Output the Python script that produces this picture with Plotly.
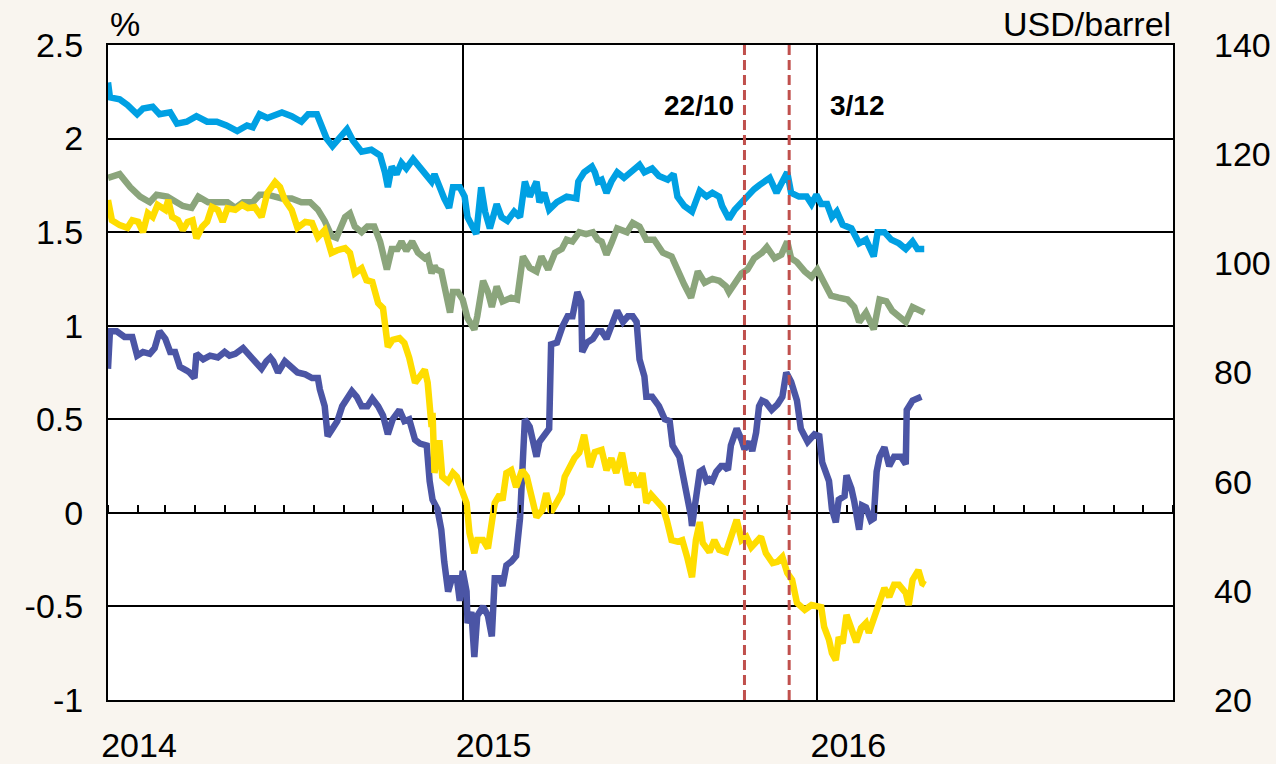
import pandas as pd
import plotly.graph_objects as go

# ---------------- data (days since 2014-01-01, values) ----------------
blue_days = [0, 2, 12, 20, 30, 36, 46, 53, 64, 71, 81, 91, 102, 112, 122, 133, 143, 149, 156, 164,
             179, 189, 199, 206, 215, 218, 225, 231, 239, 246, 252, 261, 271, 280, 285, 288, 292, 297,
             302, 307, 314, 321, 326, 333, 336, 341, 346, 351, 355, 362, 367, 370, 379, 384, 388, 393,
             400, 405, 411, 418, 424, 429, 434, 441, 444, 449, 454, 462, 472, 482, 484, 490, 498, 501,
             504, 508, 513, 518, 524, 531, 539, 547, 552, 560, 567, 576, 582, 586, 593, 601, 609, 616,
             622, 629, 632, 639, 645, 652, 658, 665, 670, 681, 688, 693, 699, 703, 711, 719, 724, 729,
             734, 740, 745, 750, 756, 765, 773, 780, 785, 788, 792, 799, 806, 814, 821, 828, 833, 840]
blue_vals = [2.30, 2.22, 2.21, 2.18, 2.13, 2.16, 2.17, 2.13, 2.14, 2.08, 2.09, 2.12, 2.09, 2.09, 2.07,
             2.04, 2.07, 2.06, 2.13, 2.11, 2.14, 2.12, 2.09, 2.13, 2.13, 2.09, 2.00, 1.96, 2.01, 2.05,
             1.99, 1.93, 1.94, 1.91, 1.82, 1.74, 1.85, 1.81, 1.87, 1.84, 1.89, 1.85, 1.81, 1.77, 1.81,
             1.74, 1.68, 1.63, 1.74, 1.74, 1.69, 1.58, 1.49, 1.74, 1.61, 1.52, 1.65, 1.58, 1.56, 1.61,
             1.58, 1.77, 1.69, 1.77, 1.66, 1.71, 1.62, 1.66, 1.69, 1.68, 1.77, 1.82, 1.85, 1.82, 1.77,
             1.78, 1.71, 1.77, 1.82, 1.79, 1.82, 1.86, 1.82, 1.84, 1.80, 1.78, 1.81, 1.69, 1.64, 1.61,
             1.72, 1.69, 1.71, 1.69, 1.64, 1.57, 1.62, 1.66, 1.70, 1.73, 1.75, 1.79, 1.71, 1.76, 1.82,
             1.71, 1.69, 1.69, 1.65, 1.70, 1.65, 1.65, 1.58, 1.61, 1.54, 1.52, 1.44, 1.46, 1.39, 1.37,
             1.50, 1.50, 1.46, 1.44, 1.41, 1.45, 1.41, 1.41]

green_days = [0, 12, 23, 33, 43, 50, 61, 69, 77, 86, 93, 103, 113, 123, 131, 139, 149, 156, 164, 174,
              179, 189, 199, 208, 216, 223, 230, 235, 244, 249, 254, 261, 267, 274, 280, 287, 292, 298,
              302, 307, 313, 319, 326, 329, 333, 336, 338, 343, 348, 352, 355, 360, 365, 370, 377, 380,
              386, 391, 395, 400, 406, 415, 421, 427, 434, 441, 446, 453, 460, 467, 472, 478, 485, 492,
              499, 504, 508, 513, 518, 524, 534, 540, 547, 554, 562, 571, 580, 586, 593, 600, 607, 614,
              622, 629, 636, 639, 645, 652, 658, 665, 673, 678, 686, 693, 699, 703, 709, 717, 724, 730,
              737, 744, 752, 761, 768, 773, 780, 785, 788, 794, 801, 807, 814, 821, 828, 835, 840]
green_vals = [1.79, 1.81, 1.74, 1.69, 1.66, 1.70, 1.69, 1.66, 1.64, 1.63, 1.69, 1.66, 1.66, 1.66, 1.63,
              1.66, 1.66, 1.70, 1.70, 1.69, 1.68, 1.68, 1.66, 1.66, 1.62, 1.56, 1.48, 1.47, 1.58, 1.60,
              1.53, 1.50, 1.53, 1.53, 1.45, 1.30, 1.41, 1.41, 1.45, 1.40, 1.45, 1.39, 1.36, 1.37, 1.28,
              1.32, 1.30, 1.29, 1.16, 1.07, 1.18, 1.18, 1.14, 1.04, 0.98, 1.05, 1.24, 1.18, 1.10, 1.21,
              1.13, 1.15, 1.14, 1.37, 1.31, 1.29, 1.37, 1.30, 1.39, 1.41, 1.46, 1.45, 1.50, 1.49, 1.50,
              1.46, 1.45, 1.38, 1.44, 1.52, 1.50, 1.55, 1.53, 1.46, 1.46, 1.39, 1.37, 1.29, 1.22, 1.15,
              1.29, 1.23, 1.25, 1.24, 1.21, 1.18, 1.23, 1.28, 1.30, 1.36, 1.39, 1.42, 1.36, 1.38, 1.45,
              1.36, 1.34, 1.29, 1.26, 1.30, 1.23, 1.16, 1.15, 1.14, 1.10, 1.02, 1.07, 1.02, 0.98, 1.14,
              1.13, 1.08, 1.05, 1.02, 1.10, 1.08, 1.07]

oil_days = [0, 4, 12, 20, 25, 31, 36, 41, 46, 51, 59, 62, 66, 72, 77, 82, 87, 91, 97, 102, 107, 113,
            118, 123, 131, 138, 144, 151, 158, 161, 164, 172, 177, 182, 189, 195, 203, 210, 216, 223,
            230, 236, 244, 249, 254, 261, 266, 272, 278, 283, 288, 293, 300, 305, 310, 316, 321, 326,
            329, 333, 334, 336, 341, 344, 350, 355, 359, 364, 369, 372, 377, 380, 386, 391, 395, 398,
            403, 406, 410, 415, 420, 426, 431, 436, 441, 447, 451, 456, 462, 467, 470, 475, 480, 485,
            490, 496, 501, 508, 513, 518, 523, 529, 535, 540, 545, 550, 554, 559, 565, 571, 575, 580,
            586, 591, 596, 601, 605, 609, 612, 619, 624, 629, 636, 641, 647, 652, 657, 662, 667, 672,
            677, 684, 689, 694, 699, 704, 709, 717, 724, 730, 734, 737, 742, 745, 749, 752, 756, 760,
            765, 770, 775, 780, 783, 788, 794, 799, 804, 809, 814, 821, 824, 828, 834, 838, 841]
oil_vals = [111.6, 107.9, 107.0, 106.5, 107.9, 107.6, 105.7, 109.2, 108.5, 110.7, 109.8, 111.6, 108.5,
            107.9, 106.1, 107.6, 107.9, 104.6, 106.7, 107.6, 110.3, 109.8, 107.6, 110.1, 109.8, 110.7,
            110.1, 110.3, 108.5, 110.3, 112.9, 114.9, 114.0, 111.6, 109.8, 106.5, 107.6, 107.4, 104.8,
            106.1, 101.9, 102.4, 102.8, 101.9, 98.2, 99.1, 96.9, 96.6, 92.7, 91.8, 84.7, 86.0, 86.3,
            85.4, 82.7, 78.1, 79.2, 80.5, 78.1, 70.0, 72.6, 61.6, 67.6, 60.9, 60.0, 61.6, 60.9, 58.5,
            56.1, 50.6, 46.9, 49.3, 49.3, 47.8, 51.7, 56.1, 57.6, 56.6, 61.6, 62.1, 59.0, 62.1, 60.9,
            57.2, 53.5, 54.8, 57.9, 54.4, 56.6, 57.9, 60.9, 62.7, 64.3, 65.3, 68.6, 62.7, 65.4, 65.8,
            62.1, 64.3, 61.6, 65.3, 59.4, 61.6, 59.0, 61.6, 56.1, 57.6, 56.6, 55.2, 53.0, 49.3, 49.0,
            49.3, 46.2, 42.5, 49.3, 52.6, 48.8, 47.1, 49.3, 47.5, 47.1, 49.9, 53.0, 49.3, 49.9, 48.0,
            49.0, 49.9, 46.9, 45.1, 45.3, 46.2, 43.3, 42.0, 37.8, 36.5, 37.4, 37.0, 37.0, 33.4, 31.0,
            28.6, 27.3, 31.5, 30.4, 35.6, 33.4, 30.6, 33.2, 34.1, 32.3, 34.7, 37.8, 40.5, 38.9, 41.1,
            41.1, 39.6, 37.4, 42.0, 43.8, 41.4, 41.1]

navy_days = [0, 2, 9, 17, 25, 30, 36, 43, 48, 53, 59, 64, 69, 74, 81, 84, 89, 91, 98, 105, 113, 120,
             125, 131, 139, 146, 153, 158, 163, 167, 170, 175, 182, 189, 195, 203, 210, 216, 218, 223,
             226, 231, 236, 241, 246, 251, 256, 261, 267, 272, 278, 283, 288, 293, 300, 305, 310, 316,
             321, 328, 331, 334, 339, 343, 346, 350, 354, 359, 362, 365, 369, 370, 374, 377, 380, 386,
             391, 395, 398, 403, 406, 410, 415, 420, 424, 426, 429, 434, 437, 441, 444, 449, 454, 456,
             462, 468, 473, 478, 483, 487, 488, 493, 499, 504, 508, 513, 518, 524, 530, 535, 540, 544,
             547, 552, 554, 560, 567, 573, 578, 581, 588, 591, 596, 600, 601, 605, 609, 612, 616, 619,
             622, 626, 631, 634, 638, 641, 647, 652, 655, 660, 663, 667, 670, 673, 677, 683, 689, 694,
             698, 703, 709, 713, 720, 727, 732, 735, 742, 745, 749, 752, 758, 760, 765, 768, 773, 776,
             780, 785, 788, 791, 794, 799, 804, 809, 816, 821, 822, 828, 833, 837]
navy_vals = [0.77, 0.97, 0.97, 0.94, 0.94, 0.84, 0.86, 0.85, 0.88, 0.97, 0.93, 0.86, 0.86, 0.78, 0.76,
             0.75, 0.72, 0.85, 0.82, 0.84, 0.83, 0.86, 0.84, 0.85, 0.88, 0.84, 0.81, 0.77, 0.81, 0.83,
             0.81, 0.75, 0.81, 0.78, 0.75, 0.74, 0.72, 0.72, 0.66, 0.57, 0.41, 0.45, 0.49, 0.57, 0.61,
             0.65, 0.62, 0.57, 0.57, 0.61, 0.57, 0.52, 0.42, 0.50, 0.55, 0.49, 0.50, 0.39, 0.37, 0.36,
             0.17, 0.07, 0.02, -0.09, -0.26, -0.42, -0.35, -0.35, -0.47, -0.31, -0.42, -0.59, -0.53,
             -0.77, -0.55, -0.50, -0.55, -0.66, -0.35, -0.35, -0.39, -0.28, -0.26, -0.23, -0.03, 0.22,
             0.50, 0.46, 0.39, 0.30, 0.38, 0.41, 0.45, 0.90, 0.91, 1.00, 1.05, 1.05, 1.18, 1.13, 0.86,
             0.91, 0.93, 0.97, 0.97, 0.93, 1.00, 1.08, 1.02, 1.05, 1.05, 1.02, 0.82, 0.73, 0.62, 0.62,
             0.57, 0.50, 0.49, 0.36, 0.30, 0.22, 0.13, -0.02, -0.07, 0.09, 0.22, 0.23, 0.17, 0.18, 0.17,
             0.22, 0.25, 0.25, 0.23, 0.36, 0.45, 0.39, 0.34, 0.38, 0.33, 0.43, 0.57, 0.60, 0.59, 0.55,
             0.58, 0.62, 0.75, 0.70, 0.60, 0.45, 0.38, 0.42, 0.41, 0.27, 0.17, 0.02, -0.05, 0.07, 0.09,
             0.20, 0.13, 0.06, -0.09, 0.04, 0.03, -0.04, -0.03, 0.22, 0.30, 0.35, 0.25, 0.30, 0.30,
             0.26, 0.55, 0.60, 0.61, 0.62]

year_ticks = ["2014-01-01", "2015-01-01", "2016-01-01", "2017-01-01"]
year_labels = ["2014", "2015", "2016", ""]
event_dates = ["2015-10-18", "2015-12-03"]
event_labels = ["22/10", "3/12"]
left_ticks = [-1, -0.5, 0, 0.5, 1, 1.5, 2, 2.5]
left_labels = ["-1", "-0.5", "0", "0.5", "1", "1.5", "2", "2.5"]
right_ticks = [20, 40, 60, 80, 100, 120, 140]

BASE = pd.Timestamp("2014-01-01")


def to_dates(days):
    return [BASE + pd.Timedelta(days=d) for d in days]


FONT = "Liberation Sans, Arial, sans-serif"
BG = "#f9f5ef"

fig = go.Figure()
lw = 6.5
fig.add_trace(go.Scatter(x=to_dates(blue_days), y=blue_vals, mode="lines",
                         line=dict(color="#00a0e3", width=lw), showlegend=False))
fig.add_trace(go.Scatter(x=to_dates(green_days), y=green_vals, mode="lines",
                         line=dict(color="#8ba57c", width=lw), showlegend=False))
fig.add_trace(go.Scatter(x=to_dates(navy_days), y=navy_vals, mode="lines",
                         line=dict(color="#4b55a5", width=lw), showlegend=False))
fig.add_trace(go.Scatter(x=to_dates(oil_days), y=oil_vals, mode="lines", yaxis="y2",
                         line=dict(color="#ffdd00", width=lw), showlegend=False))
# invisible helper trace so the zero-line tick axis is drawn
fig.add_trace(go.Scatter(x=to_dates(blue_days), y=blue_vals, mode="lines", xaxis="x2",
                         line=dict(width=0), opacity=0, hoverinfo="skip", showlegend=False))

x_range = [year_ticks[0], year_ticks[-1]]

for d in event_dates:
    fig.add_shape(type="line", xref="x", yref="paper", x0=d, x1=d, y0=0, y1=1,
                  line=dict(color="#c0504d", width=3, dash="10px,5px"), layer="above")

fig.add_annotation(x=event_dates[0], y=0.935, xref="x", yref="paper", text="<b>" + event_labels[0] + "</b>",
                   showarrow=False, xanchor="right", xshift=-8,
                   font=dict(family=FONT, size=28, color="black"))
fig.add_annotation(x=event_dates[1], y=0.935, xref="x", yref="paper", text="<b>" + event_labels[1] + "</b>",
                   showarrow=False, xanchor="left", xshift=39,
                   font=dict(family=FONT, size=28, color="black"))
fig.add_annotation(x=0, y=1.0, xref="paper", yref="paper", text="%", showarrow=False,
                   xanchor="left", yanchor="bottom", yshift=0,
                   font=dict(family=FONT, size=34, color="black"))
fig.add_annotation(x=1, y=1.0, xref="paper", yref="paper", text="USD/barrel", showarrow=False,
                   xanchor="right", yanchor="bottom", yshift=0,
                   font=dict(family=FONT, size=34, color="black"))

fig.update_layout(
    width=1276, height=764,
    margin=dict(l=108, r=103, t=45, b=64),
    paper_bgcolor=BG, plot_bgcolor="white",
    font=dict(family=FONT, size=34, color="black"),
    hovermode=False,
    xaxis=dict(type="date", range=x_range, tickvals=year_ticks, ticktext=year_labels,
               ticks="", showgrid=True, gridcolor="black", gridwidth=1.5,
               showline=True, linecolor="black", linewidth=2, mirror=True, automargin=False,
               ticklabelshift=31, ticklabelstandoff=14, zeroline=False),
    xaxis2=dict(type="date", range=x_range, overlaying="x", anchor="free",
                position=(0 - left_ticks[0]) / (left_ticks[-1] - left_ticks[0]),
                side="top", tick0=year_ticks[0], dtick="M1", ticks="outside", ticklen=8,
                tickwidth=2, tickcolor="black", showticklabels=False, showgrid=False,
                showline=False, zeroline=False, automargin=False),
    yaxis=dict(range=[left_ticks[0], left_ticks[-1]], tickvals=left_ticks, ticktext=left_labels,
               showgrid=True, gridcolor="black", gridwidth=2, zeroline=False,
               showline=True, linecolor="black", linewidth=2, mirror=True, automargin=False,
               ticks="", ticklabelstandoff=16),
    yaxis2=dict(range=[right_ticks[0], right_ticks[-1]], tickvals=right_ticks, overlaying="y",
                side="right", showgrid=False, zeroline=False, ticks="", automargin=False,
                ticklabelstandoff=40),
)

fig.write_html("out.html", config={"displayModeBar": False},
               post_script="document.body.style.margin='0';document.body.style.background='%s';" % BG)
